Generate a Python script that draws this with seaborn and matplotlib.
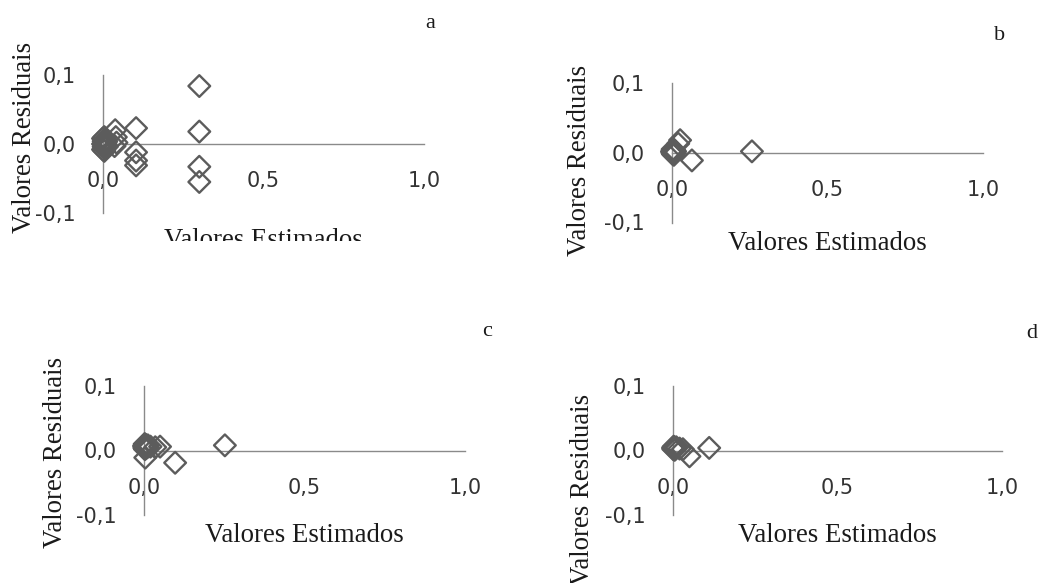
import matplotlib
matplotlib.use("Agg")
import matplotlib.pyplot as plt
import seaborn as sns
from matplotlib.transforms import Bbox, TransformedBbox

sns.set_theme(style="white")
plt.rcParams["font.family"] = ["DejaVu Sans"]

# ---------------- data ----------------
est_a = [0.000, 0.000, 0.000, 0.002, 0.002, 0.004, 0.004, 0.004, 0.006, 0.006,
         0.008, 0.008, 0.010, 0.012, 0.038, 0.040, 0.042, 0.036,
         0.103, 0.103, 0.103, 0.103, 0.300, 0.300, 0.300, 0.300]
res_a = [0.000, 0.008, -0.008, 0.004, -0.004, 0.010, -0.010, 0.000, 0.006, -0.006,
         0.002, -0.002, 0.004, -0.004, 0.020, 0.010, 0.002, -0.003,
         0.023, -0.012, -0.024, -0.031, 0.084, 0.018, -0.033, -0.055]

est_b = [0.000, 0.001, 0.002, 0.003, 0.004, 0.005, 0.006, 0.007, 0.008, 0.010,
         0.020, 0.026, 0.064, 0.257]
res_b = [0.002, 0.000, 0.005, -0.002, 0.003, 0.001, -0.003, 0.004, 0.000, 0.002,
         0.013, 0.018, -0.011, 0.002]

est_c = [0.000, 0.001, 0.002, 0.003, 0.004, 0.005, 0.006, 0.008, 0.010, 0.012,
         0.020, 0.035, 0.050, 0.004, 0.097, 0.252]
res_c = [0.007, 0.004, 0.010, 0.002, 0.006, 0.009, 0.004, 0.007, 0.005, 0.008,
         0.006, 0.005, 0.006, -0.011, -0.019, 0.008]

est_d = [0.000, 0.001, 0.002, 0.003, 0.004, 0.005, 0.006, 0.008, 0.010,
         0.020, 0.030, 0.050, 0.110]
res_d = [0.004, 0.002, 0.006, 0.003, 0.005, 0.001, 0.004, 0.003, 0.005,
         0.003, 0.002, -0.009, 0.004]

panel_letters = ["a", "b", "c", "d"]
x_ticks = [0.0, 0.5, 1.0]
x_tick_labels = ["0,0", "0,5", "1,0"]
y_ticks = [-0.1, 0.0, 0.1]
y_tick_labels = ["-0,1", "0,0", "0,1"]
x_title = "Valores Estimados"
y_title = "Valores Residuais"

# ---------------- layout ----------------
W, H = 1042, 583
fig = plt.figure(figsize=(W / 100, H / 100), dpi=100)

# axes rectangles in pixels: (x_left, x_right, y_top, y_bottom)
rects = [(103, 424, 75, 213), (672, 983, 83, 222.5),
         (144, 465, 386, 515), (673, 1002, 386, 515)]
xlabel_pos = [(0.50, -0.196), (0.50, -0.152), (0.50, -0.16), (0.50, -0.16)]
ylabel_pos = [(-0.246, 0.551), (-0.297, 0.448), (-0.277, 0.488), (-0.275, 0.20)]
letter_pos = [(430, 23), (1000, 35), (487, 332), (1032, 333)]

data = [(est_a, res_a), (est_b, res_b), (est_c, res_c), (est_d, res_d)]
axis_col = "#8a8a8a"
mark_col = "#5c5c5c"

for i, ((x0, x1, yt, yb), (ex, ry)) in enumerate(zip(rects, data)):
    ax = fig.add_axes([x0 / W, 1 - yb / H, (x1 - x0) / W, (yb - yt) / H])
    sns.scatterplot(x=ex, y=ry, ax=ax, marker="D", s=122, facecolor="none",
                    edgecolor=mark_col, linewidth=1.7, legend=False, clip_on=False,
                    zorder=3)
    ax.set_xlim(0, 1)
    ax.set_ylim(-0.1, 0.1)
    for side in ("top", "right"):
        ax.spines[side].set_visible(False)
    ax.spines["bottom"].set_position(("data", 0))
    for side in ("left", "bottom"):
        ax.spines[side].set_color(axis_col)
        ax.spines[side].set_linewidth(1.0)
    ax.set_xticks(x_ticks, x_tick_labels)
    ax.set_yticks(y_ticks, y_tick_labels)
    ax.tick_params(axis="x", direction="out", length=6.5, width=1.0, color=axis_col,
                   pad=13, labelsize=15, labelcolor="#333333")
    ylen = 0 if i == 0 else 6
    ax.tick_params(axis="y", direction="out", length=ylen, width=1.0, color=axis_col,
                   pad=19.5 - ylen, labelsize=15, labelcolor="#333333")
    ax.grid(False)
    ax.set_facecolor("none")

    ax.set_xlabel(x_title, fontsize=19.3, family="Liberation Serif", color="#1a1a1a")
    ax.set_ylabel(y_title, fontsize=19.3, family="Liberation Serif", color="#1a1a1a")
    ax.xaxis.set_label_coords(*xlabel_pos[i])
    ax.yaxis.set_label_coords(*ylabel_pos[i])
    ax.xaxis.label.set_va("center")
    ax.yaxis.label.set_va("center")
    if i == 0:
        clip = TransformedBbox(Bbox([[0, 1 - 241 / H], [1, 1]]), fig.transFigure)
        ax.xaxis.label.set_clip_box(clip)
        ax.xaxis.label.set_clip_on(True)

    lx, ly = letter_pos[i]
    fig.text(lx / W, 1 - ly / H, panel_letters[i], ha="center", va="center",
             fontsize=16, family="Liberation Serif", color="#1a1a1a")

fig.savefig("out.png", dpi=100, facecolor="white")
